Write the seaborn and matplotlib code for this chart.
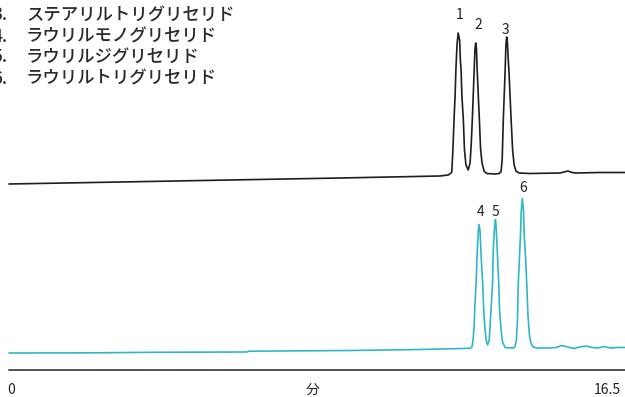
import numpy as np
import pandas as pd
import matplotlib
matplotlib.use('Agg')
import matplotlib.pyplot as plt
import seaborn as sns

# retention time (min) and detector signal
t_top = [0, 2.97, 5.92, 8.87, 11.54, 11.76, 11.81, 11.86, 11.89, 11.92, 11.95, 11.97, 12.00, 12.03, 12.07,
         12.09, 12.11, 12.13, 12.17, 12.20, 12.24, 12.30,
         12.35, 12.38, 12.41, 12.43, 12.46, 12.48, 12.50, 12.52, 12.54, 12.57, 12.60, 12.63, 12.67, 12.73,
         12.80, 13.02,
         13.13, 13.18, 13.21, 13.24, 13.26, 13.29, 13.31, 13.33, 13.35, 13.37, 13.39, 13.42, 13.45, 13.49,
         13.53, 13.58, 13.66, 13.96,
         14.76, 14.87, 14.97, 15.08, 15.19, 15.83, 16.50]
sig_top = [213, 215, 217, 219, 221, 222, 223, 225, 247, 277, 302, 327, 352, 364, 357,
           337, 327, 302, 277, 247, 232, 227,
           234, 252, 277, 297, 327, 347, 354, 349, 327, 302, 277, 249, 234, 225.5,
           223.5, 223,
           223.5, 225.5, 237, 277, 297, 327, 352, 360, 355, 339, 327, 302, 277, 247,
           232, 226, 224, 223.5,
           224, 225, 226, 224.5, 224, 224.5, 224.5]

t_bot = [0, 2.44, 3.78, 6.37, 6.43, 9.13, 11.01,
         12.35, 12.40, 12.43, 12.46, 12.48, 12.51, 12.54, 12.57, 12.59, 12.62, 12.64, 12.69, 12.71, 12.74,
         12.78, 12.82,
         12.86, 12.88, 12.91, 12.95, 12.97, 13.00, 13.03, 13.05, 13.08, 13.12, 13.14, 13.18, 13.22, 13.29,
         13.42,
         13.50, 13.55, 13.59, 13.62, 13.64, 13.67, 13.70, 13.72, 13.75, 13.78, 13.80, 13.84, 13.87, 13.90,
         13.94, 13.98, 14.04, 14.14,
         14.49, 14.65, 14.81, 14.97, 15.13, 15.29, 15.46, 15.62, 15.78, 15.94, 16.10, 16.31, 16.50]
sig_bot = [44, 44.2, 44.7, 45, 45.8, 46.5, 47.5,
           48.7, 50, 57, 72, 92, 112, 145, 165, 172.5, 165, 145, 112, 92, 72,
           57, 52,
           56, 67, 87, 112, 145, 167, 177.5, 169, 145, 112, 87, 67, 55, 49.5,
           49,
           49, 50, 57, 77, 112, 137, 162, 185, 198.5, 187, 162, 137, 112, 82,
           62, 54, 50, 49,
           49, 49.5, 51.5, 50, 48.5, 50, 51, 49.5, 49, 50.5, 49, 49.5, 49.5]

peak_names = ['1', '2', '3', '4', '5', '6']
peak_t = [12.08, 12.56, 13.31, 12.62, 13.04, 13.77]
peak_label_y = [382, 372, 367, 185, 185, 209]

compounds = ['ステアリルトリグリセリド', 'ラウリルモノグリセリド', 'ラウリルジグリセリド', 'ラウリルトリグリセリド']
compound_nums = ['3.', '4.', '5.', '6.']

x_ticks = ['0', '分', '16.5']

W, H = 625, 397
T_MAX = 16.5
X0 = -9 * T_MAX / 616  # left edge of figure in minutes


def px_t(px):
    return X0 + px / W * (T_MAX - X0)


sns.set_theme(style='white')
plt.rcParams['font.family'] = ['Noto Sans CJK JP', 'DejaVu Sans']
narrow = ['Liberation Sans Narrow', 'Noto Sans CJK JP', 'DejaVu Sans']

fig = plt.figure(figsize=(6.25, 3.97), dpi=100)
ax = fig.add_axes([0, 0, 1, 1])

df_top = pd.DataFrame({'t': t_top, 'sig': sig_top})
df_bot = pd.DataFrame({'t': t_bot, 'sig': sig_bot})
sns.lineplot(data=df_top, x='t', y='sig', ax=ax, color='#1e1e1e', lw=1.2, estimator=None, sort=False)
sns.lineplot(data=df_bot, x='t', y='sig', ax=ax, color='#2fb6c7', lw=1.2, estimator=None, sort=False)

for name, t, y in zip(peak_names, peak_t, peak_label_y):
    ax.text(t, y, name, ha='center', va='center', fontsize=10, color='#222222', family=narrow)

for i, (num, name) in enumerate(zip(compound_nums, compounds)):
    y = 381.5 - i * 21
    ax.text(px_t(7.5), y, num, ha='right', va='center', fontsize=12.5, color='#2a2a2a', weight='medium')
    ax.text(px_t(26), y, name, ha='left', va='center', fontsize=12.5, color='#2a2a2a', weight='medium')

# time axis line
ax.plot([0, T_MAX], [27, 27], color='#444444', lw=1.3)
ax.text(px_t(11), 7, x_ticks[0], ha='center', va='center', fontsize=10, color='#222222', family=narrow)
ax.text(px_t(313), 7, x_ticks[1], ha='center', va='center', fontsize=10, color='#222222', family=narrow)
ax.text(px_t(621), 7, x_ticks[2], ha='right', va='center', fontsize=10, color='#222222', family=narrow)

ax.set_xlim(X0, T_MAX)
ax.set_ylim(0, H)
ax.set_axis_off()

fig.savefig('out.png', dpi=100)
